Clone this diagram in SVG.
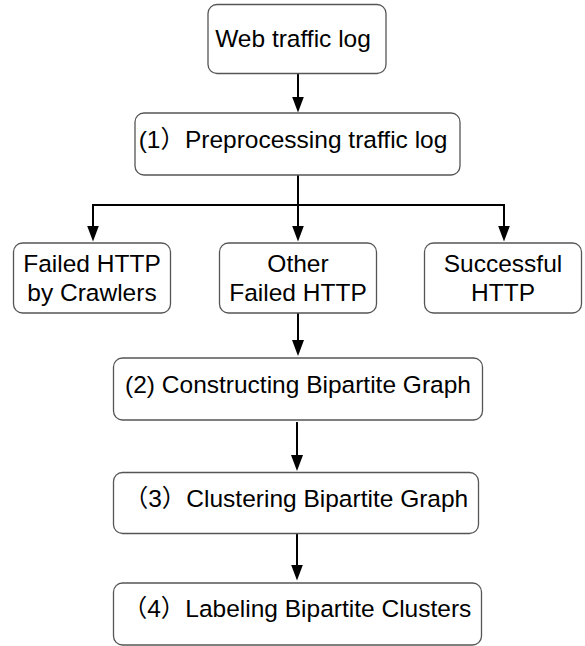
<svg xmlns="http://www.w3.org/2000/svg" width="585" height="646" viewBox="0 0 585 646">
<style>
.box{fill:#fff;stroke:#555;stroke-width:1.3}
.t{font-family:"Liberation Sans","Noto Sans CJK SC",sans-serif;font-size:24.5px;fill:#000;text-anchor:middle}
.c{fill:none;stroke:#000;stroke-width:2}
</style>
<defs>
<marker id="ah" markerUnits="userSpaceOnUse" markerWidth="16" markerHeight="12" refX="13" refY="6" orient="auto">
<path d="M0,0 L16,6 L0,12 Z" fill="#000"/>
</marker>
</defs>
<rect width="585" height="646" fill="#fff"/>
<g id="connectors">
<line class="c" x1="298" y1="73" x2="298" y2="109.5" marker-end="url(#ah)"/>
<line class="c" x1="298" y1="175" x2="298" y2="238.5" marker-end="url(#ah)"/>
<polyline class="c" points="298,205 93,205 93,238.5" marker-end="url(#ah)"/>
<polyline class="c" points="298,205 504,205 504,238.5" marker-end="url(#ah)"/>
<line class="c" x1="298" y1="313" x2="298" y2="353" marker-end="url(#ah)"/>
<line class="c" x1="297" y1="422" x2="297" y2="468" marker-end="url(#ah)"/>
<line class="c" x1="297" y1="534" x2="297" y2="577.5" marker-end="url(#ah)"/>
</g>
<g id="web-traffic-log">
<rect class="box" x="208" y="4.5" width="178" height="69" rx="9"/>
<text class="t" x="293" y="47">Web traffic log</text>
</g>
<g id="preprocessing">
<rect class="box" x="135" y="113" width="325" height="62" rx="9"/>
<text class="t" x="293" y="148">(1）Preprocessing traffic log</text>
</g>
<g id="failed-crawlers">
<rect class="box" x="13.5" y="243" width="157" height="70" rx="9"/>
<text class="t" x="92" y="272">Failed HTTP</text>
<text class="t" x="92" y="301">by Crawlers</text>
</g>
<g id="other-failed">
<rect class="box" x="219.5" y="243" width="157" height="70" rx="9"/>
<text class="t" x="298" y="272">Other</text>
<text class="t" x="298" y="301">Failed HTTP</text>
</g>
<g id="successful">
<rect class="box" x="424.5" y="243" width="157" height="70" rx="9"/>
<text class="t" x="503" y="272">Successful</text>
<text class="t" x="503" y="301">HTTP</text>
</g>
<g id="constructing">
<rect class="box" x="113.5" y="358" width="369" height="62" rx="9"/>
<text class="t" x="298" y="393">(2) Constructing Bipartite Graph</text>
</g>
<g id="clustering">
<rect class="box" x="113.5" y="472.5" width="365" height="61" rx="9"/>
<text class="t" x="296" y="507">（3）Clustering Bipartite Graph</text>
</g>
<g id="labeling">
<rect class="box" x="113.5" y="583" width="368" height="62" rx="9"/>
<text class="t" x="297" y="617">（4）Labeling Bipartite Clusters</text>
</g>
</svg>
